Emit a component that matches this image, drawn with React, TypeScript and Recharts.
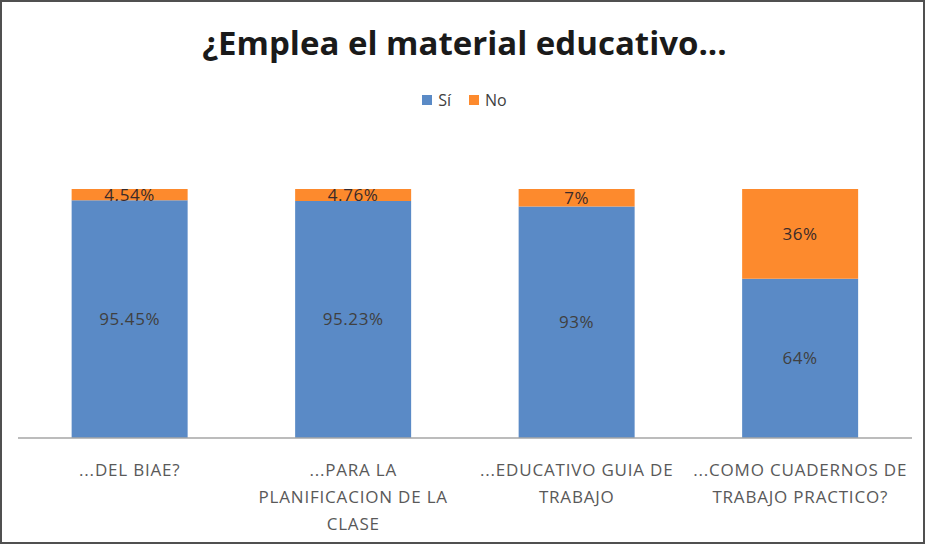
import { BarChart, Bar, XAxis, YAxis, LabelList } from 'recharts';

const categories = [
  '...DEL BIAE?',
  '...PARA LA|PLANIFICACION DE LA|CLASE',
  '...EDUCATIVO GUIA DE|TRABAJO',
  '...COMO CUADERNOS DE|TRABAJO PRACTICO?',
];
const siValues = [95.45, 95.23, 93, 64];
const noValues = [4.54, 4.76, 7, 36];

const data = categories.map((name, i) => ({ name, si: siValues[i], no: noValues[i] }));

const BLUE = '#5a8ac6';
const ORANGE = '#fd8a2d';
const FONT = '"Open Sans", "Noto Sans", sans-serif';

function CategoryTick({ x, y, payload }: any) {
  const lines = String(payload.value).split('|');
  return (
    <text
      x={x}
      y={y + 30}
      textAnchor="middle"
      fill="#595959"
      fontSize={17}
      letterSpacing={0.8}
      fontFamily={FONT}
    >
      {lines.map((line, i) => (
        <tspan key={i} x={x} dy={i === 0 ? 0 : 27}>
          {line}
        </tspan>
      ))}
    </text>
  );
}

const fmt = (v: any) => `${v}%`;

export default function App() {
  return (
    <div
      style={{
        position: 'absolute',
        left: 0,
        top: 0,
        width: 925,
        height: 544,
        boxSizing: 'border-box',
        border: '2px solid #505050',
        background: '#fff',
        fontFamily: FONT,
      }}
    >
      <div
        style={{
          position: 'absolute',
          top: 18,
          left: 0,
          width: 925,
          textAlign: 'center',
          fontSize: 33,
          fontWeight: 'bold',
          color: '#1a1a1a',
          letterSpacing: 0,
        }}
      >
        ¿Emplea el material educativo...
      </div>
      <div
        style={{
          position: 'absolute',
          top: 87,
          left: 0,
          width: 925,
          display: 'flex',
          justifyContent: 'center',
          alignItems: 'center',
          fontSize: 16,
          color: '#404040',
          gap: 6,
        }}
      >
        <span style={{ width: 10, height: 10, background: BLUE, display: 'inline-block' }} />
        <span style={{ marginRight: 12 }}>Sí</span>
        <span style={{ width: 10, height: 10, background: ORANGE, display: 'inline-block' }} />
        <span>No</span>
      </div>
      <div style={{ position: 'absolute', left: -2, top: -2 }}>
        <BarChart
          width={925}
          height={544}
          data={data}
          margin={{ top: 189, right: 13, bottom: 6, left: 18 }}
          barCategoryGap="24%"
        >
          <XAxis
            dataKey="name"
            axisLine={{ stroke: '#a6a6a6', strokeWidth: 1.5 }}
            tickLine={false}
            height={100}
            interval={0}
            tick={<CategoryTick />}
          />
          <YAxis hide domain={[0, 100]} />
          <Bar dataKey="si" stackId="a" fill={BLUE} isAnimationActive={false}>
            <LabelList
              dataKey="si"
              position="center"
              formatter={fmt}
              fill="#404040"
              fontSize={17}
              letterSpacing={0.6}
              fontFamily={FONT}
            />
          </Bar>
          <Bar dataKey="no" stackId="a" fill={ORANGE} isAnimationActive={false}>
            <LabelList
              dataKey="no"
              position="center"
              formatter={fmt}
              fill="#3a2a2a"
              fontSize={17}
              letterSpacing={0.6}
              fontFamily={FONT}
            />
          </Bar>
        </BarChart>
      </div>
    </div>
  );
}
